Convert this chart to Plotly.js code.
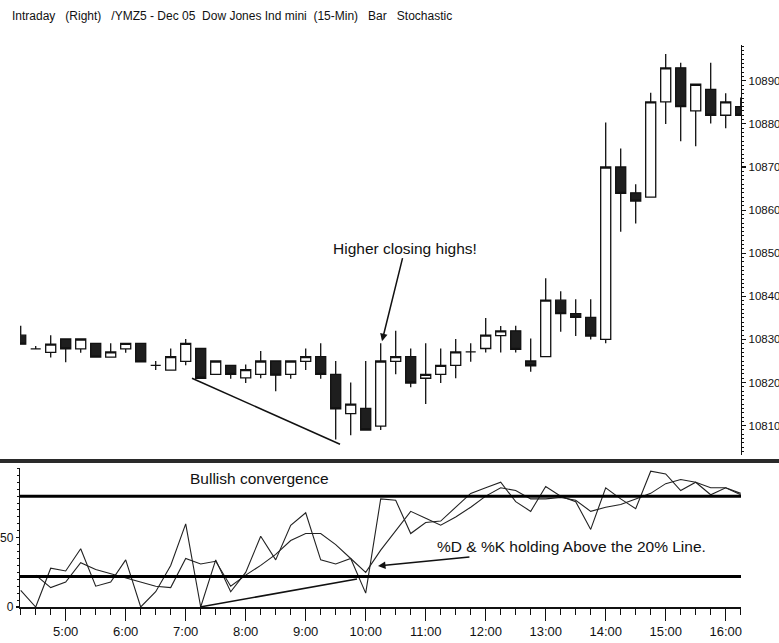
<!DOCTYPE html>
<html>
<head>
<meta charset="utf-8">
<script src="https://cdn.plot.ly/plotly-3.0.1.min.js"></script>
<style>
  html, body { margin: 0; padding: 0; background: #fff; }
  #chart { width: 779px; height: 643px; }
</style>
</head>
<body>
<div id="chart"></div>
<script>
// ---- data ----
const day = '2005-12-01';
const times = ['04:15','04:30','04:45','05:00','05:15','05:30','05:45','06:00','06:15','06:30','06:45',
  '07:00','07:15','07:30','07:45','08:00','08:15','08:30','08:45','09:00','09:15','09:30','09:45',
  '10:00','10:15','10:30','10:45','11:00','11:15','11:30','11:45','12:00','12:15','12:30','12:45',
  '13:00','13:15','13:30','13:45','14:00','14:15','14:30','14:45','15:00','15:15','15:30','15:45',
  '16:00','16:15'];

const openP  = [10831.0,10827.8,10827.0,10830.1,10827.8,10829.1,10825.9,10827.8,10829.1,10824.0,10822.9,
  10824.9,10827.9,10821.9,10824.0,10821.1,10821.9,10825.0,10821.9,10824.9,10826.0,10821.9,10812.8,
  10814.0,10809.9,10824.9,10826.0,10821.0,10821.9,10824.0,10827.1,10827.9,10830.9,10832.0,10825.0,
  10826.0,10839.1,10836.0,10835.1,10830.0,10870.0,10864.0,10863.0,10885.1,10893.0,10883.0,10888.0,
  10882.0,10884.0];
const highP  = [10833.2,10828.5,10831.0,10830.1,10830.1,10829.1,10829.1,10829.1,10829.1,10825.0,10827.9,
  10830.1,10827.9,10825.0,10824.0,10824.2,10827.3,10825.0,10825.0,10827.9,10829.1,10825.0,10820.0,
  10825.0,10829.1,10832.0,10827.9,10829.1,10827.9,10830.1,10829.1,10835.0,10833.1,10833.2,10830.2,
  10844.2,10841.2,10839.3,10839.3,10880.3,10874.3,10866.0,10887.2,10896.2,10894.2,10889.2,10894.2,
  10887.1,10886.1];
const lowP   = [10828.9,10827.8,10825.8,10824.7,10826.9,10825.9,10825.9,10826.9,10824.8,10822.9,10822.9,
  10824.0,10821.0,10821.9,10820.9,10819.9,10821.0,10818.0,10820.9,10822.9,10820.9,10806.8,10807.8,
  10809.0,10809.0,10821.9,10818.9,10815.0,10819.9,10821.0,10824.8,10827.0,10827.0,10827.0,10822.5,
  10826.0,10831.8,10830.8,10830.0,10829.1,10855.0,10856.9,10863.0,10880.0,10876.0,10874.8,10880.1,
  10879.0,10882.0];
const closeP = [10828.9,10827.8,10828.9,10827.8,10830.1,10825.9,10827.1,10829.1,10824.8,10824.0,10826.0,
  10829.1,10821.0,10825.0,10821.9,10823.0,10825.0,10821.7,10825.0,10826.0,10821.9,10813.9,10815.0,
  10809.0,10825.0,10826.0,10819.9,10821.9,10824.0,10827.1,10827.1,10831.0,10832.0,10827.7,10823.9,
  10839.1,10836.0,10835.1,10830.8,10870.0,10863.9,10862.1,10885.1,10893.0,10884.0,10889.2,10882.0,
  10885.1,10882.0];

const stochK = [12,0,28,26,42,15,18,34,0,11,30,60,0,34,11,25,51,34,59,68,34,31,35,10,78,77,53,61,62,72,
  82,86,90,76,69,87,80,76,56,86,78,71,98,96,84,90,81,86,81];
const stochD = [null,23,14,18,32,27,24,21,18,15,14,35,31,33,15,23,30,38,48,53,53,45,35,25,41,55,69,64,59,65,
  72,80,86,84,78,78,79,77,69,72,74,78,82,89,92,90,86,86,82];

const levelLines = [80, 22];
const hourTicks  = ['05:00','06:00','07:00','08:00','09:00','10:00','11:00','12:00','13:00','14:00','15:00','16:00'];
const hourLabels = ['5:00','6:00','7:00','8:00','9:00','10:00','11:00','12:00','13:00','14:00','15:00','16:00'];
const stochTicks = [0, 50];

// annotation anchor points (time, value)
const priceTrend = { t: ['07:06:18','09:34:19'], v: [10821.0, 10805.7] };
const stochTrend = { t: ['07:14:17','09:51:18'], v: [0, 20.2] };

const T = s => day + ' ' + (s.length === 5 ? s + ':00' : s);
const xs = times.map(T);

const FONT = '"Liberation Sans", Arial, sans-serif';

const traces = [
  {
    type: 'candlestick', x: xs, open: openP, high: highP, low: lowP, close: closeP,
    xaxis: 'x', yaxis: 'y',
    whiskerwidth: 0,
    increasing: { line: { color: '#111', width: 1.3 }, fillcolor: '#ffffff' },
    decreasing: { line: { color: '#111', width: 1.3 }, fillcolor: '#1e1e1e' },
    hoverinfo: 'x+y', showlegend: false
  },
  {
    type: 'scatter', mode: 'lines', x: xs, y: stochK, xaxis: 'x', yaxis: 'y2',
    line: { color: '#222', width: 1.1 }, showlegend: false, name: '%K'
  },
  {
    type: 'scatter', mode: 'lines', x: xs, y: stochD, xaxis: 'x', yaxis: 'y2',
    line: { color: '#222', width: 1.1 }, showlegend: false, name: '%D'
  }
];

const shapes = [];
levelLines.forEach(v => shapes.push({
  type: 'line', xref: 'paper', x0: 0, x1: 1, yref: 'y2', y0: v, y1: v,
  line: { color: '#000', width: 3 }
}));
// panel separator
shapes.push({ type: 'line', xref: 'paper', x0: -0.03, x1: 1.06, yref: 'paper', y0: 0.2598, y1: 0.2598,
  line: { color: '#2a2a2a', width: 4 } });
shapes.push({ type: 'line', xref: 'x', yref: 'y', x0: T(priceTrend.t[0]), x1: T(priceTrend.t[1]),
  y0: priceTrend.v[0], y1: priceTrend.v[1], line: { color: '#111', width: 1.5 } });
shapes.push({ type: 'line', xref: 'x', yref: 'y2', x0: T(stochTrend.t[0]), x1: T(stochTrend.t[1]),
  y0: stochTrend.v[0], y1: stochTrend.v[1], line: { color: '#111', width: 1.5 } });

const annFont = { family: FONT, size: 15.5, color: '#111' };
const annotations = [
  { xref: 'x', yref: 'y', x: T('10:16:19'), y: 10829.6, text: 'Higher closing highs!',
    showarrow: true, ax: 23, ay: -93, arrowhead: 2, arrowsize: 1, arrowwidth: 1.5, arrowcolor: '#111',
    font: annFont },
  { xref: 'x', yref: 'y2', x: T('08:14:17'), y: 93, text: 'Bullish convergence',
    showarrow: false, font: annFont },
  { xref: 'x', yref: 'y2', x: T('10:12:18'), y: 29.6, text: '%D & %K holding Above the 20% Line.',
    showarrow: true, ax: 193, ay: -19, arrowhead: 2, arrowsize: 1, arrowwidth: 1.5, arrowcolor: '#111',
    font: annFont }
];

const layout = {
  width: 779, height: 643,
  paper_bgcolor: '#fff', plot_bgcolor: '#fff',
  margin: { l: 20, r: 38, t: 45, b: 36 },
  font: { family: FONT, size: 12, color: '#111' },
  title: { text: 'Intraday&nbsp;&nbsp;&nbsp;(Right)&nbsp;&nbsp;&nbsp;/YMZ5 - Dec 05&nbsp;&nbsp;Dow Jones Ind mini&nbsp;&nbsp;(15-Min)&nbsp;&nbsp;&nbsp;Bar&nbsp;&nbsp;&nbsp;Stochastic',
    x: 12 / 779, xanchor: 'left', y: 1 - 16 / 643, yanchor: 'middle',
    font: { family: FONT, size: 12, color: '#111' } },
  showlegend: false,
  boxgap: 0.33, boxgroupgap: 0,
  xaxis: {
    type: 'date', anchor: 'y2',
    range: [T('04:14:18'), T('16:15:18')],
    rangeslider: { visible: false },
    tickvals: hourTicks.map(T), ticktext: hourLabels,
    ticks: 'outside', ticklen: 12, tickwidth: 1.3, tickcolor: '#111',
    minor: { dtick: 15 * 60 * 1000, tick0: T('04:15'), ticks: 'outside', ticklen: 6, tickwidth: 1.2, tickcolor: '#111', showgrid: false },
    showline: true, linecolor: '#111', linewidth: 1.5,
    showgrid: false, zeroline: false,
    tickfont: { family: FONT, size: 13, color: '#111' }
  },
  yaxis: {
    domain: [0.2705, 1], anchor: 'x', side: 'right',
    range: [10803.2, 10898.3],
    tick0: 10810, dtick: 10, tickformat: 'd',
    ticks: 'outside', ticklen: 4, tickwidth: 1.2, tickcolor: '#111',
    minor: { dtick: 1, ticks: 'outside', ticklen: 2, tickwidth: 1, tickcolor: '#111', showgrid: false },
    showline: true, linecolor: '#111', linewidth: 1.2,
    showgrid: false, zeroline: false,
    tickfont: { family: FONT, size: 11.5, color: '#111' }
  },
  yaxis2: {
    domain: [0, 0.2466], anchor: 'x',
    range: [0, 100],
    tickvals: stochTicks,
    ticks: 'outside', ticklen: 3, tickwidth: 1.2, tickcolor: '#111',
    minor: { dtick: 5, ticks: 'outside', ticklen: 2, tickwidth: 1, tickcolor: '#111', showgrid: false },
    showline: true, linecolor: '#111', linewidth: 1.2,
    showgrid: false, zeroline: false,
    tickfont: { family: FONT, size: 12, color: '#111' }
  },
  shapes: shapes,
  annotations: annotations
};

Plotly.newPlot('chart', traces, layout, { displayModeBar: false, staticPlot: true });
</script>
</body>
</html>
